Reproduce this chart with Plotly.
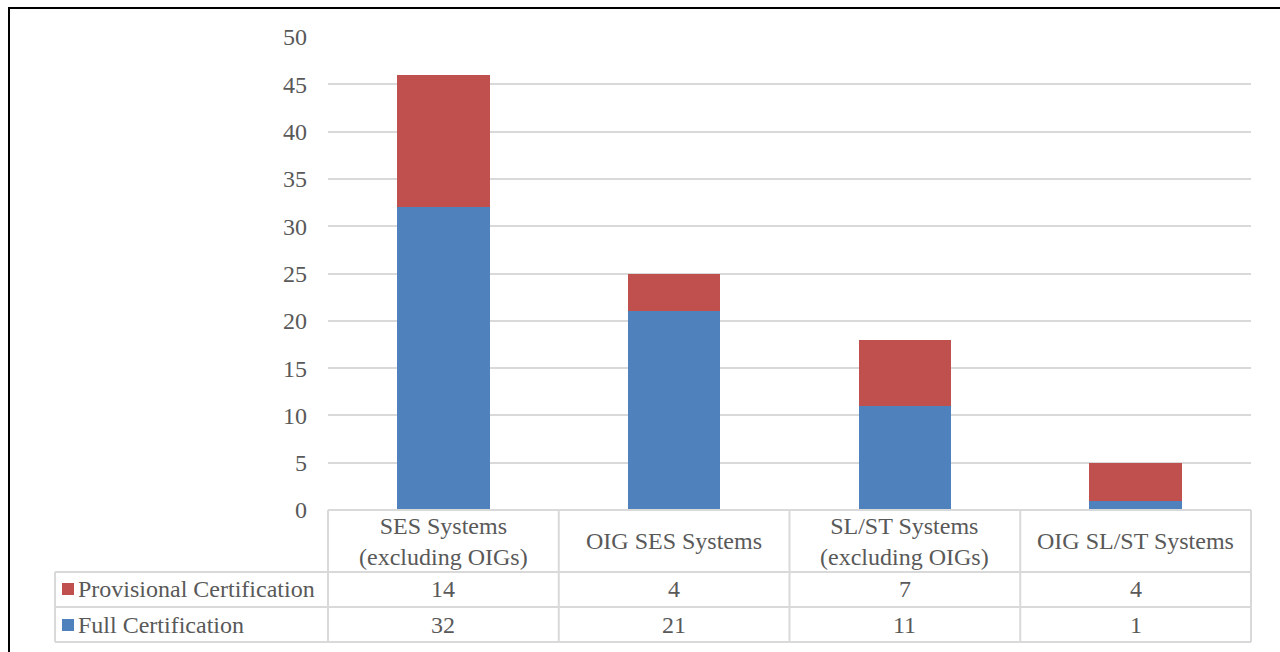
import plotly.graph_objects as go

categories = ["SES Systems<br>(excluding OIGs)", "OIG SES Systems",
              "SL/ST Systems<br>(excluding OIGs)", "OIG SL/ST Systems"]
full_cert = [32, 21, 11, 1]
prov_cert = [14, 4, 7, 4]
series_names = ["Provisional Certification", "Full Certification"]
y_ticks = [0, 5, 10, 15, 20, 25, 30, 35, 40, 45, 50]

BLUE = "#4F81BD"
RED = "#C0504D"
GRID = "#D9D9D9"
TXT = "#595959"
FONT = "Liberation Serif, Times New Roman, serif"
FS = 24

W, H = 1280, 652
PL, PR, PT, PB = 328, 1251, 37, 510
pw, ph = PR - PL, PB - PT


def px(x):
    return (x - PL) / pw


def py(y):
    return (PB - y) / ph


xs = list(range(len(categories)))
fig = go.Figure()
fig.add_trace(go.Bar(x=xs, y=full_cert, name=series_names[1], marker_color=BLUE,
                     marker_line_width=0))
fig.add_trace(go.Bar(x=xs, y=prov_cert, name=series_names[0], marker_color=RED,
                     marker_line_width=0))

shapes = []
line = dict(color=GRID, width=2)
shapes.append(dict(type="line", xref="paper", yref="paper", x0=0, x1=1, y0=0, y1=0, line=line))
for yy in [572, 607, 642]:
    shapes.append(dict(type="line", xref="paper", yref="paper", x0=px(55), x1=1,
                       y0=py(yy), y1=py(yy), line=line))
shapes.append(dict(type="line", xref="paper", yref="paper", x0=px(55), x1=px(55),
                   y0=py(572), y1=py(642), line=line))
ncat = len(categories)
for k in range(ncat + 1):
    xx = k / ncat
    shapes.append(dict(type="line", xref="paper", yref="paper", x0=xx, x1=xx,
                       y0=0, y1=py(642), line=line))
shapes.append(dict(type="rect", xref="paper", yref="paper", x0=px(62), x1=px(74),
                   y0=py(595), y1=py(583), fillcolor=RED, line_width=0))
shapes.append(dict(type="rect", xref="paper", yref="paper", x0=px(62), x1=px(74),
                   y0=py(631), y1=py(619), fillcolor=BLUE, line_width=0))
shapes.append(dict(type="rect", xref="paper", yref="paper", x0=px(9), x1=px(1300),
                   y0=py(680), y1=py(8), line=dict(color="#000000", width=2)))

ann = []
tf = dict(family=FONT, size=FS, color=TXT)
for i, c in enumerate(categories):
    ann.append(dict(x=i, y=py(541), xref="x", yref="paper", text=c, showarrow=False,
                    font=tf, xanchor="center", yanchor="middle"))
    ann.append(dict(x=i, y=py(589), xref="x", yref="paper", text=str(prov_cert[i]),
                    showarrow=False, font=tf, xanchor="center", yanchor="middle"))
    ann.append(dict(x=i, y=py(625), xref="x", yref="paper", text=str(full_cert[i]),
                    showarrow=False, font=tf, xanchor="center", yanchor="middle"))
ann.append(dict(x=px(76), y=py(589), xref="paper", yref="paper", text=series_names[0],
                showarrow=False, font=tf, xanchor="left", yanchor="middle"))
ann.append(dict(x=px(76), y=py(625), xref="paper", yref="paper", text=series_names[1],
                showarrow=False, font=tf, xanchor="left", yanchor="middle"))

fig.update_layout(
    width=W, height=H, barmode="stack", bargap=0.6, showlegend=False,
    plot_bgcolor="white", paper_bgcolor="white",
    margin=dict(l=PL, r=W - PR, t=PT, b=H - PB, autoexpand=False),
    xaxis=dict(range=[-0.5, ncat - 0.5], showticklabels=False, showgrid=False,
               zeroline=False, showline=False, fixedrange=True),
    yaxis=dict(range=[0, 50], tickvals=y_ticks, showgrid=True, gridcolor=GRID,
               gridwidth=2, zeroline=False, showline=False,
               tickfont=dict(family=FONT, size=FS, color=TXT), ticklabelstandoff=20),
    shapes=shapes, annotations=ann,
)
fig.write_html("out.html")
